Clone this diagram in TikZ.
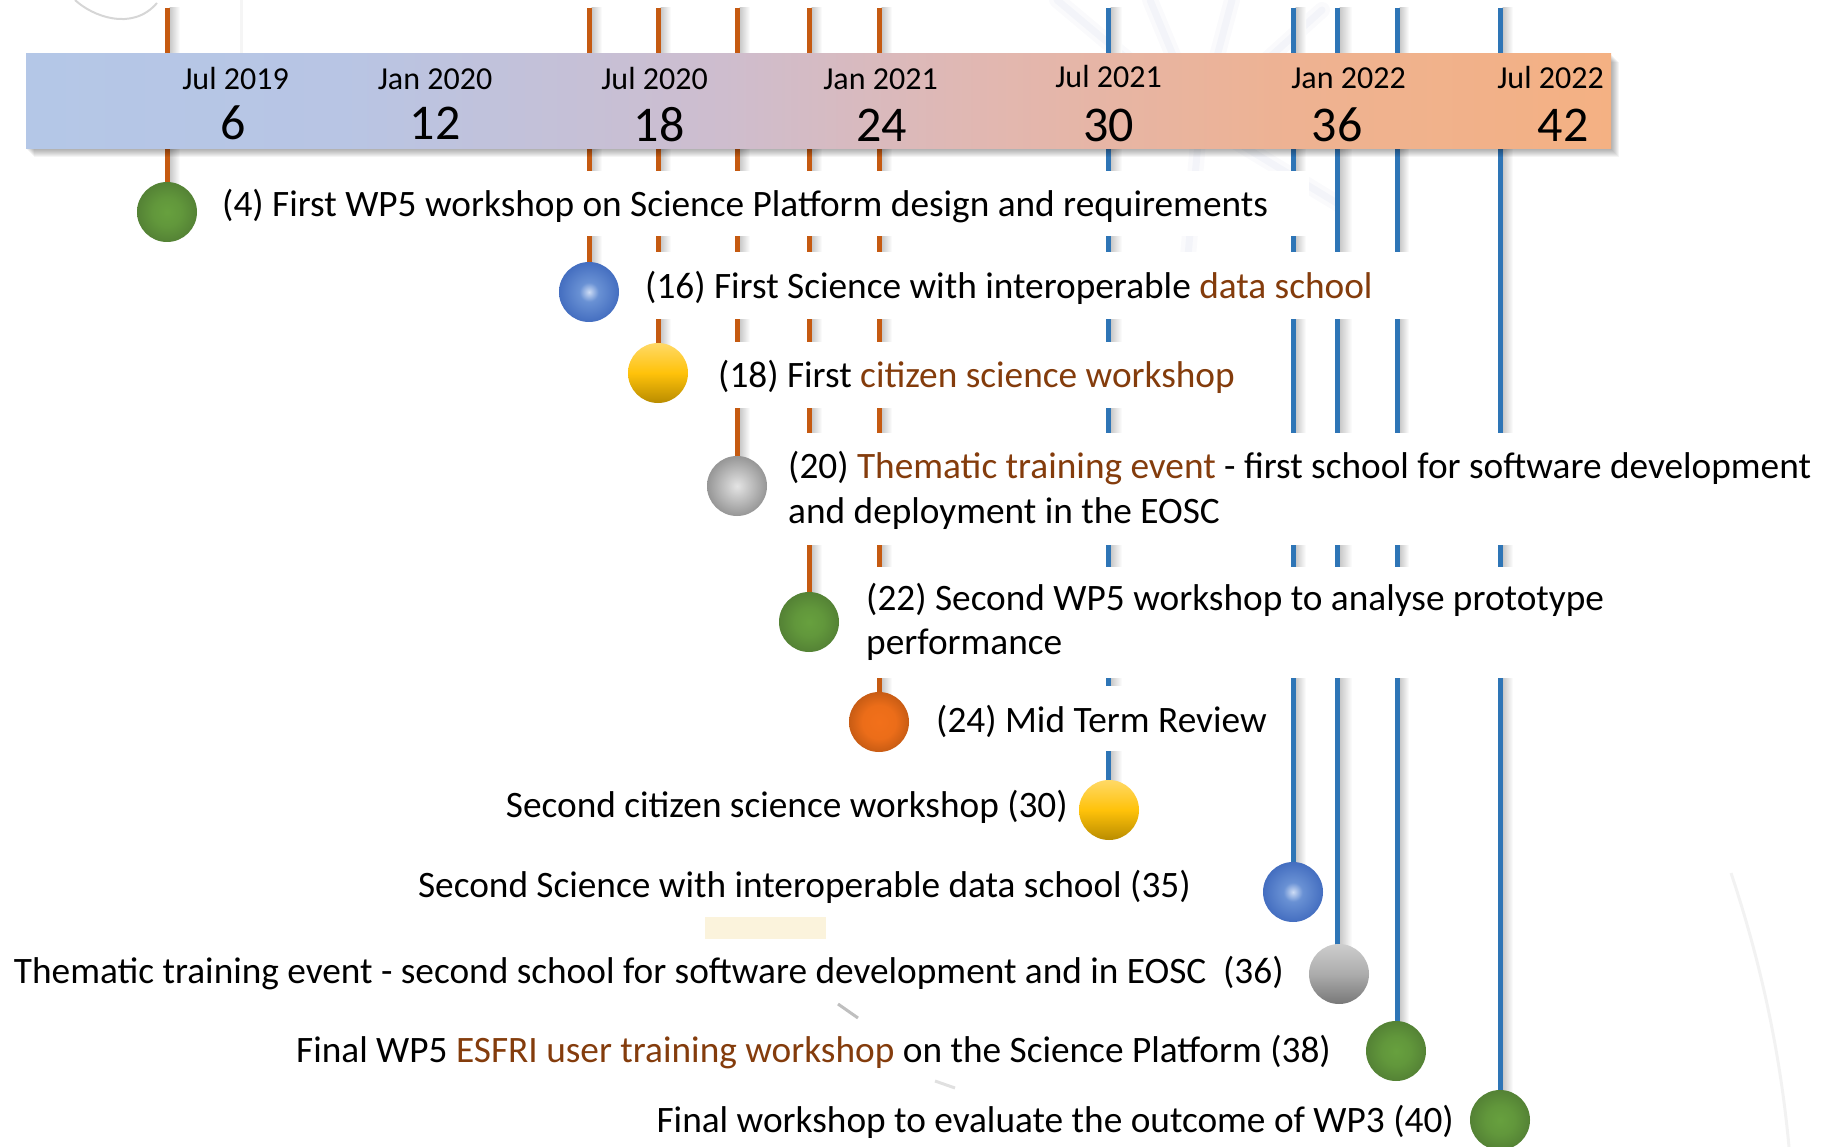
\documentclass[tikz,border=0pt]{standalone}
\usepackage{fontspec}
\setmainfont{Carlito}

\pgfdeclarelayer{backdrop}
\pgfdeclarelayer{stems}
\pgfsetlayers{backdrop,stems,main}

% palette
\definecolor{evorange}{RGB}{197,90,17}
\definecolor{evblue}{RGB}{46,117,182}
\definecolor{hlbrown}{RGB}{132,60,12}
\definecolor{cream}{RGB}{251,243,220}
\definecolor{haze}{RGB}{150,160,200}
\definecolor{bar0}{RGB}{180,199,231}
\definecolor{bar1}{RGB}{184,197,228}
\definecolor{bar2}{RGB}{206,189,206}
\definecolor{bar3}{RGB}{226,183,176}
\definecolor{bar4}{RGB}{238,178,146}
\definecolor{bar5}{RGB}{244,177,131}
\definecolor{gin}{RGB}{103,160,62}
\definecolor{gout}{RGB}{84,130,53}
\definecolor{bhi}{RGB}{205,220,245}
\definecolor{bmid}{RGB}{105,145,212}
\definecolor{bout}{RGB}{68,110,192}
\definecolor{oin}{RGB}{242,112,26}
\definecolor{oout}{RGB}{200,92,20}
\definecolor{grin}{RGB}{228,228,228}
\definecolor{grout}{RGB}{150,150,150}

% month band shading, left to right
\pgfdeclarehorizontalshading{bandshade}{100bp}{color(0bp)=(bar0); color(25bp)=(bar0);
  color(35bp)=(bar1); color(47bp)=(bar2); color(55.5bp)=(bar3); color(65bp)=(bar4);
  color(75bp)=(bar5); color(100bp)=(bar5)}
% ball shadings
\pgfdeclareradialshading{greenball}{\pgfpoint{0bp}{0bp}}{color(0bp)=(gin); color(12bp)=(gin!70!gout); color(25bp)=(gout); color(50bp)=(gout)}
\pgfdeclareradialshading{blueball}{\pgfpoint{0bp}{0bp}}{color(0bp)=(bhi); color(8bp)=(bmid); color(25bp)=(bout); color(50bp)=(bout)}
\pgfdeclareradialshading{orangeball}{\pgfpoint{0bp}{0bp}}{color(0bp)=(oin); color(14bp)=(oin!85!oout); color(25bp)=(oout); color(50bp)=(oout)}
\pgfdeclareradialshading{greyball}{\pgfpoint{0bp}{0bp}}{color(0bp)=(grin); color(25bp)=(grout); color(50bp)=(grout)}

\newcommand{\hl}[1]{\textcolor{hlbrown}{#1}}

\tikzset{
  ball/.style={circle, minimum size=60pt, inner sep=0pt},
  gball/.style={ball, shading=greenball},
  bball/.style={ball, shading=blueball},
  oball/.style={ball, shading=orangeball},
  rball/.style={ball, shading=greyball},
  yball/.style={ball, shading=axis, top color={rgb,255:red,255;green,217;blue,102},
      bottom color={rgb,255:red,185;green,140;blue,0}, middle color={rgb,255:red,255;green,194;blue,10}},
  vball/.style={ball, shading=axis, top color={rgb,255:red,205;green,205;blue,205},
      bottom color={rgb,255:red,120;green,120;blue,120}, middle color={rgb,255:red,172;green,172;blue,172}},
  ostem/.style={draw=evorange, line width=5pt},
  bstem/.style={draw=evblue, line width=5pt},
  stemshadow/.style={left color=black!22, right color=white},
  lbl/.style={inner sep=0pt, anchor=base west, font=\fontsize{37.3}{44}\selectfont},
  lblr/.style={lbl, anchor=base east},
  mon/.style={inner sep=0pt, anchor=base, font=\fontsize{32}{38}\selectfont},
  num/.style={inner sep=0pt, anchor=base, font=\fontsize{50}{60}\selectfont},
  blank/.style={fill=white},
  ray/.style={draw=haze, line cap=round},
}

\begin{document}
\begin{tikzpicture}[x=1pt, y=-1pt]
\useasboundingbox (0,0) rectangle (1833,1147);

% faint watermark behind everything
\begin{pgfonlayer}{backdrop}
  \draw[black!16, line width=2pt] (75,0) .. controls (92,16) and (132,32) .. (157,3);
  \draw[black!4, line width=3pt] (241,0) -- (241,55);
  \foreach \ex/\ey in {1057/0, 1150/0, 1232/0, 1322/10, 1340/205, 1188/256} {
    \draw[ray, opacity=0.05, line width=16pt] (1200,120) -- (\ex,\ey);
    \draw[ray, opacity=0.07, line width=7pt] (1200,120) -- (\ex,\ey);
  }
  \fill[cream] (705,917) rectangle (826,939);
  \draw[black!25, line width=3pt] (838,1004) -- (858,1018);
  \draw[black!12, line width=3pt] (935,1081) -- (955,1088);
  \draw[black!5, line width=3pt] (1731,873) .. controls (1760,960) and (1780,1050) .. (1789,1147);
\end{pgfonlayer}

% tops of the stems
\foreach \n/\x in {4/167, 16/589, 18/658, 20/737, 22/809, 24/879,
                   30/1108, 35/1293, 36/1337, 38/1397, 40/1500}
  \coordinate (t\n) at (\x,8);

% shadow and band of months
\foreach \k in {1,...,8}
  \fill[black, opacity=0.045] (26+\k,54+\k) rectangle (1611+\k,149+\k);
\shade[shading=bandshade] (26,54) rectangle (1611,149);

\node[mon] (m6)  at (235.5,90) {Jul 2019};
\node[mon] (m12) at (435,90)   {Jan 2020};
\node[mon] (m18) at (654.5,90) {Jul 2020};
\node[mon] (m24) at (880.5,90) {Jan 2021};
\node[mon] (m30) at (1108.5,88) {Jul 2021};
\node[mon] (m36) at (1348.5,89) {Jan 2022};
\node[mon] (m42) at (1550.5,89) {Jul 2022};
\node[num] (n6)  at (233,140)  {6};
\node[num] (n12) at (435,140)  {12};
\node[num] (n18) at (659,142)  {18};
\node[num] (n24) at (881.5,142) {24};
\node[num] (n30) at (1108.5,142) {30};
\node[num] (n36) at (1337,142) {36};
\node[num] (n42) at (1563,142) {42};

% white panels behind the event texts
\fill[blank] (205,171) rectangle (1309,236);
\fill[blank] (630,252) rectangle (1409,319);
\fill[blank] (703,342) rectangle (1250,408);
\fill[blank] (775,433) rectangle (1833,545);
\fill[blank] (850,567) rectangle (1620,678);
\fill[blank] (920,686) rectangle (1270,751);

% event texts
\node[lbl] (l4)   at (222,217) {(4) First WP5 workshop on Science Platform design and requirements};
\node[lbl] (l16)  at (645,299) {(16) First Science with interoperable \hl{data school}};
\node[lbl] (l18)  at (718,388) {(18) First \hl{citizen science workshop}};
\node[lbl] (l20a) at (788,478) {(20) \hl{Thematic training event} - first school for software development};
\node[lbl] (l20b) at (788,523) {and deployment in the EOSC};
\node[lbl] (l22a) at (866,610) {(22) Second WP5 workshop to analyse prototype};
\node[lbl] (l22b) at (866,654) {performance};
\node[lbl] (l24)  at (936,732) {(24) Mid Term Review};
\node[lblr] (l30) at (1068,817) {Second citizen science workshop (30)};
\node[lblr] (l35) at (1191,897) {Second Science with interoperable data school (35)};
\node[lblr] (l36) at (1284,983) {Thematic training event - second school for software development and in EOSC\ \ (36)};
\node[lblr] (l38) at (1331,1062) {Final WP5 \hl{ESFRI user training workshop} on the Science Platform (38)};
\node[lblr] (l40) at (1454,1132) {Final workshop to evaluate the outcome of WP3 (40)};

% milestone balls
\node[gball] (b4)  at (167,212)  {};
\node[bball] (b16) at (589,292)  {};
\node[yball] (b18) at (658,373)  {};
\node[rball] (b20) at (737,486)  {};
\node[gball] (b22) at (809,622)  {};
\node[oball] (b24) at (879,722)  {};
\node[yball] (b30) at (1109,810) {};
\node[bball] (b35) at (1293,892) {};
\node[vball] (b36) at (1339,974) {};
\node[gball] (b38) at (1396,1051) {};
\node[gball] (b40) at (1500,1120) {};

% stems from the top edge down to each ball
\begin{pgfonlayer}{stems}
  \foreach \n in {4,16,18,20,22,24,30,35,36,38,40}
    \shade[stemshadow] ([xshift=2.5pt]t\n) rectangle ([xshift=13pt]b\n.center);
  \foreach \n in {4,16,18,20,22,24}
    \draw[ostem] (t\n) -- (b\n.center);
  \foreach \n in {30,35,36,38,40}
    \draw[bstem] (t\n) -- (t\n |- b\n.center);
\end{pgfonlayer}
\end{tikzpicture}
\end{document}
